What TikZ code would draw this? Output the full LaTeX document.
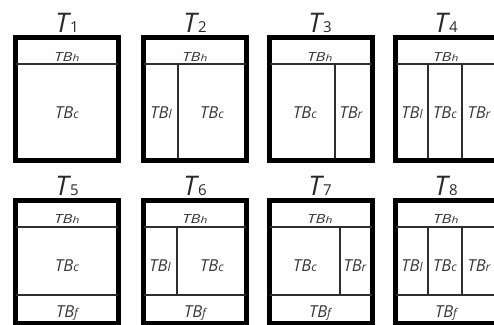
\documentclass[tikz,border=0pt]{standalone}
\usepackage{fontspec}
\usepackage{graphicx}
\setmainfont{Open Sans}
\definecolor{inkline}{HTML}{2E2E2E}
\definecolor{inktext}{HTML}{383838}
\definecolor{inktitle}{HTML}{2A2A2A}
\newcommand\TBx[1]{TB{\fontsize{12}{12}\selectfont #1}}
\newcommand\TBh[1]{\scalebox{1}[0.76]{\TBx{#1}}}
\newcommand\Tnum[1]{T\kern1.2pt{\fontsize{15}{15}\selectfont\upshape #1}}
\tikzset{
  frame/.style={line width=5pt, draw=black},
  divline/.style={line width=2.2pt, draw=inkline},
  lab/.style={font=\fontsize{16.5}{16.5}\selectfont\itshape, text=inktext, inner sep=0pt, anchor=base},
  ttl/.style={font=\fontsize{27}{27}\selectfont\itshape, text=inktitle, inner sep=0pt, anchor=base},
}
\begin{document}
\begin{tikzpicture}[x=1pt,y=-1pt]
\useasboundingbox (0,0) rectangle (494,324);
\clip (0,0) rectangle (494,324);
% ---------- Row 1 (top 35, bottom 163) ----------
% frames
\draw[frame] (15.5,37.5) rectangle (118.5,160.5);
\draw[frame] (143.5,37.5) rectangle (246.5,160.5);
\draw[frame] (269.5,37.5) rectangle (372.5,160.5);
\draw[frame] (395.5,37.5) rectangle (498.5,160.5);
% header lines
\draw[divline] (16,64) -- (118,64);
\draw[divline] (144,64) -- (246,64);
\draw[divline] (270,64) -- (372,64);
\draw[divline] (396,64) -- (498,64);
% dividers
\draw[divline] (178,64) -- (178,158);
\draw[divline] (335,64) -- (335,158);
\draw[divline] (428,64) -- (428,158);
\draw[divline] (462,64) -- (462,158);
% titles
\node[ttl] (T1) at (67,32) {\Tnum{1}};
\node[ttl] (T2) at (195,32) {\Tnum{2}};
\node[ttl] (T3) at (320,32) {\Tnum{3}};
\node[ttl] (T4) at (446,32) {\Tnum{4}};
% labels
\node[lab] (a1h) at (67,61) {\TBh{h}};
\node[lab] (a1c) at (67,118) {\TBx{c}};
\node[lab] (a2h) at (195,61) {\TBh{h}};
\node[lab] (a2l) at (161,118) {\TBx{l}};
\node[lab] (a2c) at (212,118) {\TBx{c}};
\node[lab] (a3h) at (320,61) {\TBh{h}};
\node[lab] (a3c) at (305,118) {\TBx{c}};
\node[lab] (a3r) at (351,118) {\TBx{r}};
\node[lab] (a4h) at (446,61) {\TBh{h}};
\node[lab] (a4l) at (412,118) {\TBx{l}};
\node[lab] (a4c) at (445,118) {\TBx{c}};
\node[lab] (a4r) at (479,118) {\TBx{r}};
% ---------- Row 2 (top 198, bottom 326) ----------
\draw[frame] (15.5,200.5) rectangle (118.5,323.5);
\draw[frame] (143.5,200.5) rectangle (246.5,323.5);
\draw[frame] (269.5,200.5) rectangle (372.5,323.5);
\draw[frame] (395.5,200.5) rectangle (498.5,323.5);
% header lines
\draw[divline] (16,227) -- (118,227);
\draw[divline] (144,227) -- (246,227);
\draw[divline] (270,227) -- (372,227);
\draw[divline] (396,227) -- (498,227);
% footer lines
\draw[divline] (16,295) -- (118,295);
\draw[divline] (144,295) -- (246,295);
\draw[divline] (270,295) -- (372,295);
\draw[divline] (396,295) -- (498,295);
% dividers
\draw[divline] (177,227) -- (177,295);
\draw[divline] (340,227) -- (340,295);
\draw[divline] (428,227) -- (428,295);
\draw[divline] (462,227) -- (462,295);
% titles
\node[ttl] (T5) at (67,195) {\Tnum{5}};
\node[ttl] (T6) at (195,195) {\Tnum{6}};
\node[ttl] (T7) at (320,195) {\Tnum{7}};
\node[ttl] (T8) at (446,195) {\Tnum{8}};
% labels
\node[lab] (b5h) at (67,223) {\TBh{h}};
\node[lab] (b5c) at (67,271) {\TBx{c}};
\node[lab] (b5f) at (67,317) {\TBx{f}};
\node[lab] (b6h) at (195,223) {\TBh{h}};
\node[lab] (b6l) at (160,271) {\TBx{l}};
\node[lab] (b6c) at (212,271) {\TBx{c}};
\node[lab] (b6f) at (195,317) {\TBx{f}};
\node[lab] (b7h) at (320,223) {\TBh{h}};
\node[lab] (b7c) at (305,271) {\TBx{c}};
\node[lab] (b7r) at (355,271) {\TBx{r}};
\node[lab] (b7f) at (320,317) {\TBx{f}};
\node[lab] (b8h) at (446,223) {\TBh{h}};
\node[lab] (b8l) at (412,271) {\TBx{l}};
\node[lab] (b8c) at (445,271) {\TBx{c}};
\node[lab] (b8r) at (479,271) {\TBx{r}};
\node[lab] (b8f) at (446,317) {\TBx{f}};
\end{tikzpicture}
\end{document}
